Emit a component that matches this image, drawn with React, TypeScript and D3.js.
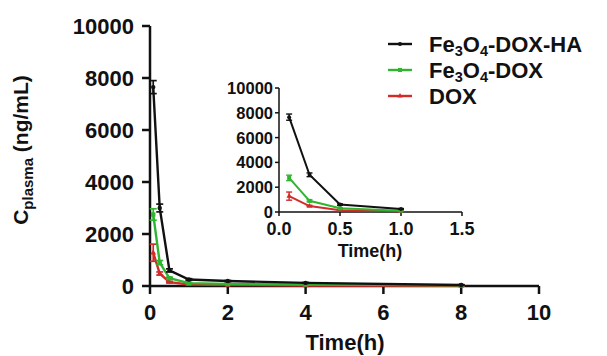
import * as d3 from "d3";

// sampling times (h)
const times = [0.083, 0.25, 0.5, 1, 2, 4, 8];

const haMean = [7650, 3000, 600, 250, 190, 120, 40];
const haSd = [250, 150, 60, 30, 20, 15, 10];
const feMean = [2750, 900, 300, 110, 80, 60, 25];
const feSd = [220, 80, 40, 20, 15, 10, 8];
const doxMean = [1280, 480, 150, 60, 40, 20, 10];
const doxSd = [330, 60, 30, 15, 10, 8, 5];

const series = [
  { name: "Fe3O4-DOX-HA", color: "#111111", shape: "circle", mean: haMean, sd: haSd },
  { name: "Fe3O4-DOX", color: "#2fb52f", shape: "square", mean: feMean, sd: feSd },
  { name: "DOX", color: "#d32a2a", shape: "triangle", mean: doxMean, sd: doxSd },
];

const mainXTicks = [0, 2, 4, 6, 8, 10];
const mainYTicks = [0, 2000, 4000, 6000, 8000, 10000];
const insetXTicks = [0, 0.5, 1, 1.5];
const insetYTicks = [0, 2000, 4000, 6000, 8000, 10000];

const font = "'Liberation Sans', Arial, sans-serif";

function Marker({ shape, x, y, color, r }: { shape: string; x: number; y: number; color: string; r: number }) {
  if (shape === "square") return <rect x={x - r} y={y - r} width={2 * r} height={2 * r} fill={color} />;
  if (shape === "triangle")
    return <path d={d3.symbol(d3.symbolTriangle, r * r * 3)()!} transform={`translate(${x},${y})`} fill={color} />;
  return <circle cx={x} cy={y} r={r} fill={color} />;
}

function Label({ name, x, y, size }: { name: string; x: number; y: number; size: number }) {
  // "Fe3O4" with subscript digits
  const parts = name.split(/(\d)/).filter((p) => p !== "");
  const sub = size * 0.66;
  const drop = size * 0.2;
  return (
    <text x={x} y={y} fontSize={size} fontWeight="bold" fontFamily={font} fill="#111">
      {parts.map((p, i) =>
        /\d/.test(p) ? (
          <tspan key={i} fontSize={sub} dy={drop}>{p}</tspan>
        ) : (
          <tspan key={i} dy={i > 0 && /\d/.test(parts[i - 1]) ? -drop : 0}>{p}</tspan>
        )
      )}
    </text>
  );
}

function Plot({ x, y, maxT, lw, r, cap }: { x: d3.ScaleLinear<number, number>; y: d3.ScaleLinear<number, number>; maxT: number; lw: number; r: number; cap: number }) {
  return (
    <g>
      {series.slice().reverse().map((s) => {
        const idx = times.map((_, i) => i).filter((i) => times[i] <= maxT);
        const pts = idx.map((i) => [x(times[i]), y(s.mean[i])] as [number, number]);
        return (
          <g key={s.name}>
            <path d={d3.line()(pts)!} fill="none" stroke={s.color} strokeWidth={lw} />
            {idx.map((i) => {
              const cx = x(times[i]);
              const y1 = y(s.mean[i] + s.sd[i]);
              const y2 = y(Math.max(0, s.mean[i] - s.sd[i]));
              return (
                <g key={i} stroke={s.color} strokeWidth={lw * 0.7}>
                  <line x1={cx} x2={cx} y1={y1} y2={y2} />
                  <line x1={cx - cap} x2={cx + cap} y1={y1} y2={y1} />
                  <line x1={cx - cap} x2={cx + cap} y1={y2} y2={y2} />
                </g>
              );
            })}
            {idx.map((i) => (
              <Marker key={"m" + i} shape={s.shape} x={x(times[i])} y={y(s.mean[i])} color={s.color} r={r} />
            ))}
          </g>
        );
      })}
    </g>
  );
}

export default function App() {
  const W = 607;
  const H = 356;
  const x = d3.scaleLinear().domain([0, 10]).range([150, 539]);
  const y = d3.scaleLinear().domain([0, 10000]).range([286, 26]);
  const ix = d3.scaleLinear().domain([0, 1.5]).range([279, 462]);
  const iy = d3.scaleLinear().domain([0, 10000]).range([212, 88]);

  return (
    <svg width={W} height={H} style={{ position: "absolute", left: 0, top: 0, background: "#fff" }}>
      <rect width={W} height={H} fill="#fff" />
      {/* main axes */}
      <g stroke="#111" strokeWidth={2.5}>
        <line x1={x(0)} x2={x(10)} y1={y(0)} y2={y(0)} />
        <line x1={x(0)} x2={x(0)} y1={y(0)} y2={y(10000)} />
        {mainXTicks.map((t) => (
          <line key={t} x1={x(t)} x2={x(t)} y1={y(0)} y2={y(0) + 8} />
        ))}
        {mainYTicks.map((t) => (
          <line key={t} x1={x(0) - 8} x2={x(0)} y1={y(t)} y2={y(t)} />
        ))}
      </g>
      {mainXTicks.map((t) => (
        <text key={t} x={x(t)} y={320} textAnchor="middle" fontSize={22} fontWeight="bold" fontFamily={font} fill="#111">
          {t}
        </text>
      ))}
      {mainYTicks.map((t) => (
        <text key={t} x={x(0) - 16} y={y(t) + 8} textAnchor="end" fontSize={22} fontWeight="bold" fontFamily={font} fill="#111">
          {t}
        </text>
      ))}
      <text x={345} y={350} textAnchor="middle" fontSize={22} fontWeight="bold" fontFamily={font} fill="#111">
        Time(h)
      </text>
      <text transform="translate(28,150) rotate(-90)" textAnchor="middle" fontSize={21} fontWeight="bold" fontFamily={font} fill="#111">
        C<tspan fontSize={15} dy={5}>plasma</tspan>
        <tspan dy={-5}> (ng/mL)</tspan>
      </text>

      <Plot x={x} y={y} maxT={10} lw={2.4} r={2.2} cap={3.5} />

      {/* inset */}
      <g stroke="#111" strokeWidth={1.5}>
        <line x1={ix(0)} x2={ix(1.5)} y1={iy(0)} y2={iy(0)} />
        <line x1={ix(0)} x2={ix(0)} y1={iy(0)} y2={iy(10000)} />
        {insetXTicks.map((t) => (
          <line key={t} x1={ix(t)} x2={ix(t)} y1={iy(0)} y2={iy(0) + 4} />
        ))}
        {insetYTicks.map((t) => (
          <line key={t} x1={ix(0) - 4} x2={ix(0)} y1={iy(t)} y2={iy(t)} />
        ))}
      </g>
      {insetXTicks.map((t) => (
        <text key={t} x={ix(t)} y={235} textAnchor="middle" fontSize={18} fontWeight="bold" fontFamily={font} fill="#111">
          {d3.format(".1f")(t)}
        </text>
      ))}
      {insetYTicks.map((t) => (
        <text key={t} x={ix(0) - 6} y={iy(t) + 6} textAnchor="end" fontSize={16.5} fontWeight="bold" fontFamily={font} fill="#111">
          {t}
        </text>
      ))}
      <text x={370} y={257} textAnchor="middle" fontSize={18} fontWeight="bold" fontFamily={font} fill="#111">
        Time(h)
      </text>

      <Plot x={ix} y={iy} maxT={1} lw={2} r={2} cap={3} />

      {/* legend */}
      {series.map((s, i) => {
        const ly = 44 + i * 26;
        return (
          <g key={s.name}>
            <line x1={388} x2={412} y1={ly} y2={ly} stroke={s.color} strokeWidth={2.4} />
            <Marker shape={s.shape} x={400} y={ly} color={s.color} r={2} />
            <Label name={s.name} x={429} y={ly + 8} size={22} />
          </g>
        );
      })}
    </svg>
  );
}
